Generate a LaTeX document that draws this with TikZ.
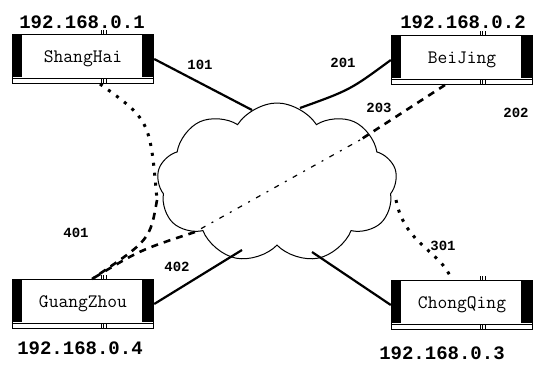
\documentclass[tikz,border=0pt]{standalone}
\usepackage{fontspec}
\setmainfont{Liberation Serif}
\newfontfamily\rfont{Liberation Mono}
\newfontfamily\nfont{Latin Modern Mono}
\usetikzlibrary{shapes.symbols}
\tikzset{
  router/.style={draw, line width=1.4pt, fill=white, minimum width=141pt, minimum height=49pt,
    inner sep=0pt, font=\nfont\fontsize{19}{19}\selectfont},
  routerbar/.style={fill=black},
  tick/.style={line width=0.7pt},
  iplabel/.style={font=\rfont\bfseries\fontsize{19}{19}\selectfont, inner sep=0pt},
  linklabel/.style={font=\rfont\bfseries\fontsize{14}{14}\selectfont, inner sep=0pt},
  solidlink/.style={line width=2.2pt},
  dotlink/.style={line width=3pt, dash pattern=on 3pt off 7pt},
  dashlink/.style={line width=2.6pt, dash pattern=on 7pt off 6pt},
  finelink/.style={line width=1.2pt, dash pattern=on 2pt off 7pt on 5pt off 7pt}
}
\newcommand\routerdeco[1]{%
  \fill[routerbar] ([xshift=0.7pt,yshift=-0.7pt]#1.north west) rectangle ([xshift=10pt,yshift=7pt]#1.south west);
  \fill[routerbar] ([xshift=-0.7pt,yshift=-0.7pt]#1.north east) rectangle ([xshift=-12pt,yshift=7pt]#1.south east);
  \draw[line width=1.3pt] ([yshift=6pt]#1.south west) -- ([yshift=6pt]#1.south east);
  \foreach \k in {0,2.5,5}{
    \draw[tick] ([xshift=18pt+\k pt]#1.north) -- ++(0,4pt);
    \draw[tick] ([xshift=18pt+\k pt,yshift=6pt]#1.south) -- ++(0,-5pt);
  }%
}
\begin{document}
\begin{tikzpicture}[x=1pt,y=-1pt]
\useasboundingbox (0,0) rectangle (535,367);
% cloud
\node[cloud, draw, line width=1pt, cloud puffs=9, cloud puff arc=115, aspect=1.45,
      minimum width=240pt, minimum height=160pt] (cl) at (277,183) {};
% routers
\node[router] (sh) at (83,59) {ShangHai};
\node[router] (bj) at (462,60) {BeiJing};
\node[router] (gz) at (83,304) {GuangZhou};
\node[router] (cq) at (462,305) {ChongQing};
\routerdeco{sh}
\routerdeco{bj}
\routerdeco{gz}
\routerdeco{cq}
% IP labels
\node[iplabel] (ip1) at (82,22) {192.168.0.1};
\node[iplabel] (ip2) at (463,22) {192.168.0.2};
\node[iplabel] (ip4) at (80,348) {192.168.0.4};
\node[iplabel] (ip3) at (442,353) {192.168.0.3};
% link labels
\node[linklabel] (l101) at (200,65) {101};
\node[linklabel] (l201) at (343,63) {201};
\node[linklabel] (l203) at (379,108) {203};
\node[linklabel] (l202) at (516,113) {202};
\node[linklabel] (l401) at (76,233) {401};
\node[linklabel] (l402) at (177,267) {402};
\node[linklabel] (l301) at (443,246) {301};
% attachment points on the cloud
\coordinate (c1) at (252,110);
\coordinate (c2) at (300,108);
\coordinate (c3) at (157,200);
\coordinate (c4) at (360,140);
\coordinate (c5) at (195,232);
\coordinate (c6) at (396,200);
\coordinate (c7) at (242,250);
\coordinate (c8) at (312,252);
\coordinate (s1) at (100,84);
\coordinate (b1) at (445,85);
\coordinate (g1) at (92,279);
\coordinate (q1) at (452,280);
% connectors
\draw[solidlink] (sh.east) -- (c1);
\draw[solidlink] (bj.west) .. controls (350,90) .. (c2);
\draw[dotlink] (s1) .. controls (150,120) .. (c3);
\draw[dashlink] (c3) .. controls (150,240) .. (g1);
\draw[dashlink] (b1) -- (c4);
\draw[finelink] (c4) -- (c5);
\draw[dashlink] (c5) .. controls (140,250) .. (g1);
\draw[dotlink] (c6) .. controls (405,245) and (440,250) .. (q1);
\draw[solidlink] (gz.east) -- (c7);
\draw[solidlink] (cq.west) -- (c8);
\end{tikzpicture}
\end{document}
